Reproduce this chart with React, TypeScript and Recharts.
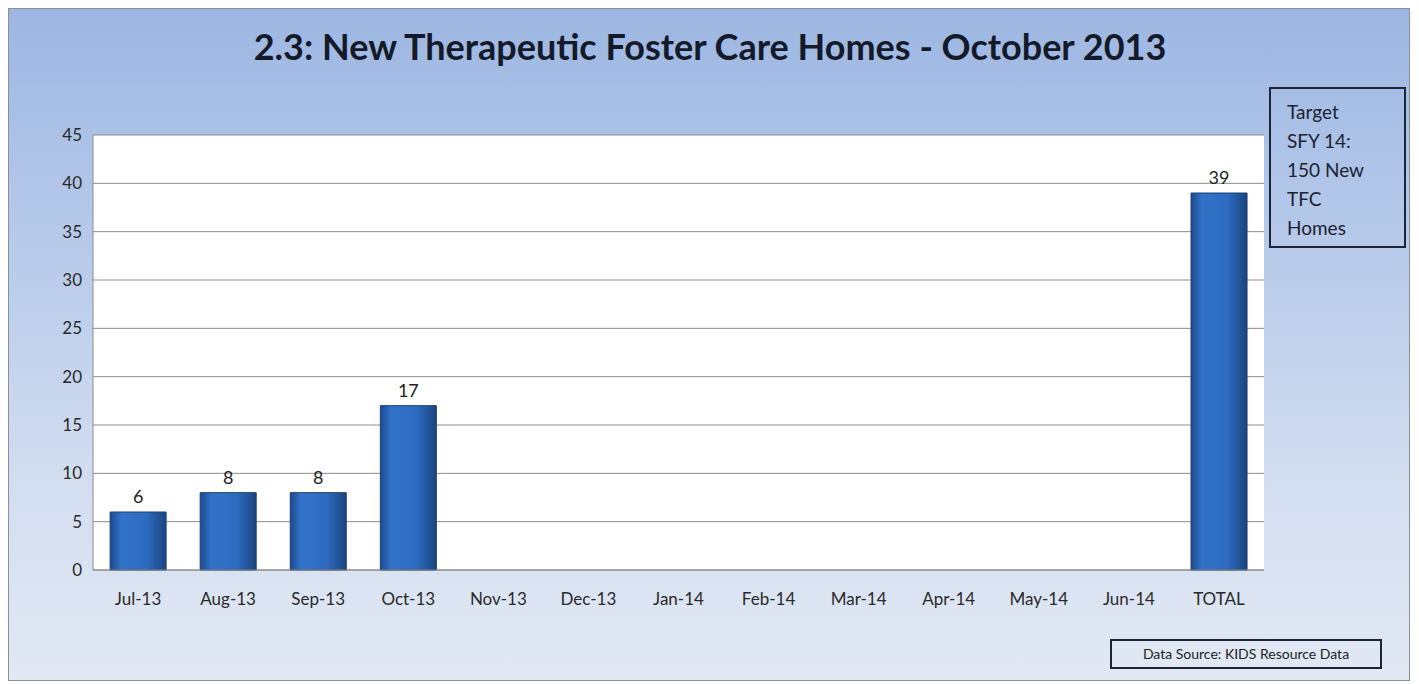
import { Bar, BarChart, CartesianGrid, LabelList, XAxis, YAxis } from 'recharts';

// 2.3 New TFC homes, monthly counts for SFY 14 plus running total.

const months = [
  'Jul-13', 'Aug-13', 'Sep-13', 'Oct-13', 'Nov-13', 'Dec-13',
  'Jan-14', 'Feb-14', 'Mar-14', 'Apr-14', 'May-14', 'Jun-14', 'TOTAL',
];
const newHomes: (number | null)[] = [6, 8, 8, 17, null, null, null, null, null, null, null, null, 39];
const yTicks = [0, 5, 10, 15, 20, 25, 30, 35, 40, 45];

const rows = months.map((m, i) => ({ month: m, homes: newHomes[i] }));

const FONT = 'Lato, "Open Sans", sans-serif';

export default function App() {
  return (
    <div
      style={{
        position: 'relative',
        width: 1402,
        height: 673,
        border: '1px solid #8a8f98',
        boxSizing: 'border-box',
        background: 'linear-gradient(180deg, #9db7e2 0%, #b7caea 35%, #d2ddf0 70%, #e2e9f4 100%)',
        fontFamily: FONT,
      }}
    >
      <div
        style={{
          position: 'absolute',
          top: 15,
          left: 0,
          width: 1402,
          textAlign: 'center',
          fontSize: 36,
          fontWeight: 700,
          color: '#141a2a',
        }}
      >
        2.3: New Therapeutic Foster Care Homes - October 2013
      </div>

      <div style={{ position: 'absolute', top: 0, left: 0 }}>
        <BarChart
          width={1402}
          height={673}
          data={rows}
          barCategoryGap="19%"
          margin={{ top: 126, right: 147, bottom: 78, left: 0 }}
        >
          <defs>
            <linearGradient id="barFill" x1="0" y1="0" x2="1" y2="0">
              <stop offset="0%" stopColor="#1d4a8e" />
              <stop offset="20%" stopColor="#3273c9" />
              <stop offset="65%" stopColor="#2c6bbf" />
              <stop offset="100%" stopColor="#1b457f" />
            </linearGradient>
          </defs>
          <CartesianGrid vertical={false} stroke="#8c8c8c" fill="#ffffff" />
          <XAxis
            dataKey="month"
            height={34}
            tickLine={false}
            axisLine={{ stroke: '#8c8c8c' }}
            tick={{ fontSize: 17, fill: '#2a2a2a', fontFamily: FONT }}
            tickMargin={17}
            interval={0}
          />
          <YAxis
            width={84}
            domain={[0, 45]}
            ticks={yTicks}
            tickLine={false}
            axisLine={{ stroke: '#8c8c8c' }}
            tick={{ fontSize: 17, fill: '#2a2a2a', fontFamily: FONT }}
            tickMargin={5}
          />
          <Bar dataKey="homes" fill="url(#barFill)" stroke="#1a3f73" strokeWidth={1} isAnimationActive={false}>
            <LabelList dataKey="homes" position="top" offset={9} style={{ fontSize: 18, fill: '#222', fontFamily: FONT }} />
          </Bar>
        </BarChart>
      </div>

      <div
        style={{
          position: 'absolute',
          top: 78,
          left: 1260,
          width: 137,
          height: 161,
          border: '2px solid #1c2538',
          boxSizing: 'border-box',
          padding: '8px 0 0 16px',
          fontSize: 19,
          lineHeight: '29px',
          color: '#1c2230',
        }}
      >
        Target
        <br />
        SFY 14:
        <br />
        150 New
        <br />
        TFC
        <br />
        Homes
      </div>

      <div
        style={{
          position: 'absolute',
          top: 630,
          left: 1101,
          width: 272,
          height: 30,
          border: '2px solid #1c2538',
          boxSizing: 'border-box',
          textAlign: 'center',
          fontSize: 14,
          lineHeight: '26px',
          color: '#222',
        }}
      >
        Data Source: KIDS Resource Data
      </div>
    </div>
  );
}
